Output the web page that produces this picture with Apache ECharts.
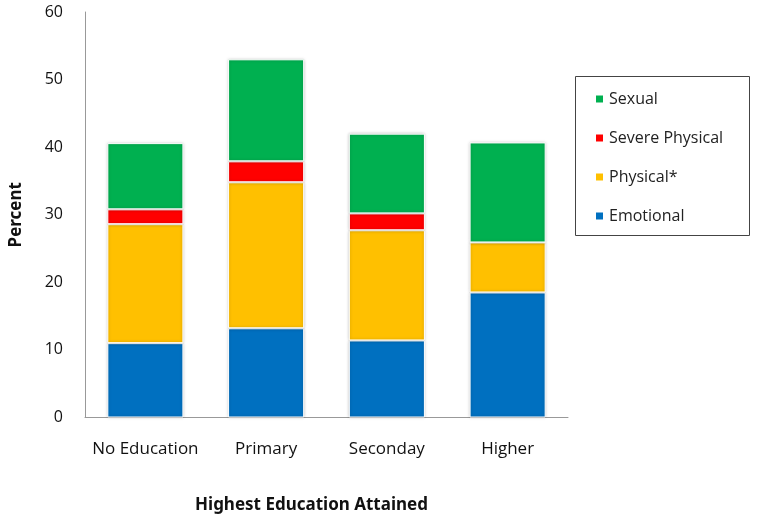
<!DOCTYPE html>
<html><head><meta charset="utf-8">
<script src="https://cdn.jsdelivr.net/npm/echarts@6/dist/echarts.min.js"></script>
<style>html,body{margin:0;padding:0;background:#fff}#c{width:758px;height:521px}</style>
</head><body><div id="c"></div>
<script>
const categories = ['No Education', 'Primary', 'Seconday', 'Higher'];
const emotional = [11.0, 13.2, 11.4, 18.5];
const physical = [17.6, 21.6, 16.3, 7.4];
const severePhysical = [2.2, 3.1, 2.5, 0];
const sexual = [9.8, 15.1, 11.8, 14.8];
const yTicks = [0, 10, 20, 30, 40, 50, 60];

const chart = echarts.init(document.getElementById('c'), null, {renderer: 'canvas'});
const font = '"Open Sans", "Noto Sans", sans-serif';
const titleFont = '"Liberation Sans Narrow", "Noto Sans", sans-serif';
const barStyle = (c) => ({
  color: c, borderColor: '#fff', borderWidth: 1,
  shadowBlur: 3, shadowColor: 'rgba(0,0,0,0.25)'
});
const mk = (name, data, c) => ({
  name, type: 'bar', stack: 'a', data, barWidth: '63%',
  itemStyle: barStyle(c), emphasis: {disabled: true}
});
chart.setOption({
  animation: false,
  grid: {left: 81, right: 190, top: 12, bottom: 103.5},
  legend: {
    orient: 'vertical', left: 589, top: 86,
    data: ['Sexual', 'Severe Physical', 'Physical*', 'Emotional'],
    itemWidth: 9, itemHeight: 9, itemGap: 23, icon: 'rect',
    textStyle: {fontFamily: font, fontSize: 16, color: '#222', lineHeight: 16}
  },
  graphic: [{
    type: 'rect', left: 573, top: 74, shape: {width: 174, height: 159},
    style: {fill: 'none', stroke: '#444', lineWidth: 1}
  }],
  xAxis: {
    type: 'category', data: categories,
    axisLine: {lineStyle: {color: '#999', width: 1}},
    axisTick: {show: false},
    axisLabel: {fontFamily: font, fontSize: 17, color: '#111', margin: 23, interval: 0},
    name: 'Highest Education Attained', nameLocation: 'middle', nameGap: 79,
    nameTextStyle: {fontFamily: titleFont, fontSize: 17, fontWeight: 'bold', color: '#111', padding: [0, 30, 0, 0]}
  },
  yAxis: {
    type: 'value', min: yTicks[0], max: yTicks[yTicks.length - 1], interval: 10,
    axisLine: {show: true, lineStyle: {color: '#999', width: 1}},
    axisTick: {show: false},
    splitLine: {show: false},
    axisLabel: {fontFamily: font, fontSize: 16, color: '#111', margin: 22},
    name: 'Percent', nameLocation: 'middle', nameGap: 60, nameRotate: 90,
    nameTextStyle: {fontFamily: titleFont, fontSize: 17, fontWeight: 'bold', color: '#111'}
  },
  series: [
    mk('Emotional', emotional, '#0070C0'),
    mk('Physical*', physical, '#FFC000'),
    mk('Severe Physical', severePhysical, '#FF0000'),
    mk('Sexual', sexual, '#00B050')
  ]
});
</script></body></html>
